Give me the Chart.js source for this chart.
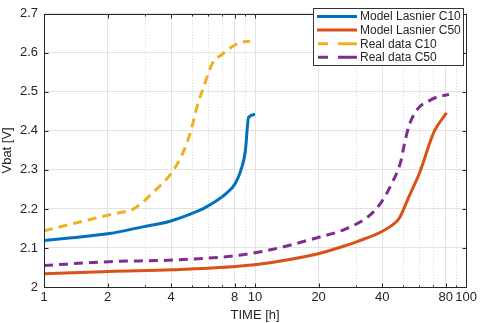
<!DOCTYPE html>
<html>
<head>
<meta charset="utf-8">
<script src="https://cdn.jsdelivr.net/npm/chart.js@4/dist/chart.umd.min.js"></script>
<style>
  html, body { margin: 0; padding: 0; background: #fff; }
  #wrap { width: 480px; height: 323px; }
</style>
</head>
<body>
<div id="wrap"><canvas id="chart" width="480" height="323"></canvas></div>
<script>
"use strict";

// values
const timeModelC10 = [1, 1.28, 2.04, 2.93, 3.92, 5.0, 5.83, 6.26, 7.24, 8.07, 8.66, 8.99, 9.32, 10.0];
const vbatModelC10 = [2.119, 2.125, 2.137, 2.154, 2.168, 2.188, 2.204, 2.214, 2.238, 2.266, 2.307, 2.348, 2.435, 2.442];

const timeModelC50 = [1, 2.04, 4.06, 8.3, 12.0, 19.9, 27.5, 30.7, 39.5, 45.0, 48.2, 53.7, 59.9, 70.5, 80.7];
const vbatModelC50 = [2.034, 2.040, 2.044, 2.053, 2.063, 2.085, 2.108, 2.117, 2.141, 2.160, 2.176, 2.233, 2.290, 2.398, 2.446];

const timeRealC10 = [1, 1.65, 2.12, 2.63, 2.83, 3.27, 3.99, 4.52, 4.95, 5.32, 5.72, 6.26, 6.98, 8.36, 9.49];
const vbatRealC10 = [2.144, 2.173, 2.187, 2.199, 2.210, 2.241, 2.290, 2.340, 2.398, 2.464, 2.514, 2.572, 2.596, 2.625, 2.630];

const timeRealC50 = [1, 2.04, 4.06, 8.3, 12.0, 19.9, 26.1, 34.8, 39.5, 44.0, 49.1, 50.9, 53.7, 58.8, 66.7, 73.1, 82.9];
const vbatRealC50 = [2.055, 2.065, 2.069, 2.081, 2.096, 2.127, 2.146, 2.183, 2.216, 2.261, 2.323, 2.365, 2.414, 2.456, 2.477, 2.487, 2.493];

const xTicks = [1, 2, 4, 8, 10, 20, 40, 80, 100];
const xMinorTicks = [3, 5, 6, 7, 9, 30, 50, 60, 70, 90];
const yTicks = [2, 2.1, 2.2, 2.3, 2.4, 2.5, 2.6, 2.7];

const seriesNames = ["Model Lasnier C10", "Model Lasnier C50", "Real data C10", "Real data C50"];

const FONT = "'Liberation Sans', Arial, sans-serif";
const TXT = "#262626";
const AXIS = "#262626";
const GRID = "#e3e3e3";

function pts(xs, ys) {
  return xs.map((x, i) => ({ x, y: ys[i] }));
}

function series(label, data, color, dash) {
  return {
    label,
    data,
    borderColor: color,
    backgroundColor: color,
    borderWidth: 3,
    borderDash: dash || [],
    pointRadius: 0,
    fill: false,
    cubicInterpolationMode: "monotone",
  };
}

// dotted minor grid, inward ticks, box and legend, all placed through the scales
const decorPlugin = {
  id: "decor",
  beforeDatasetsDraw(chart) {
    const { ctx, chartArea: a, scales } = chart;
    ctx.save();
    ctx.strokeStyle = "#d6d6d6";
    ctx.lineWidth = 1;
    ctx.setLineDash([1, 2]);
    xMinorTicks.forEach((v) => {
      const px = Math.round(scales.x.getPixelForValue(v)) + 0.5;
      ctx.beginPath();
      ctx.moveTo(px, a.top);
      ctx.lineTo(px, a.bottom);
      ctx.stroke();
    });
    ctx.restore();
  },
  afterDraw(chart) {
    const { ctx, chartArea: a, scales } = chart;
    ctx.save();
    ctx.strokeStyle = AXIS;
    ctx.lineWidth = 1;
    ctx.setLineDash([]);
    const L = Math.round(a.left) + 0.5, R = Math.round(a.right) + 0.5;
    const T = Math.round(a.top) + 0.5, B = Math.round(a.bottom) + 0.5;
    ctx.strokeRect(L, T, R - L, B - T);
    // inward ticks
    ctx.beginPath();
    xTicks.concat(xMinorTicks).forEach((v) => {
      const px = Math.round(scales.x.getPixelForValue(v)) + 0.5;
      const len = xTicks.includes(v) ? 4 : 2;
      ctx.moveTo(px, B); ctx.lineTo(px, B - len);
      ctx.moveTo(px, T); ctx.lineTo(px, T + len);
    });
    yTicks.forEach((v) => {
      const py = Math.round(scales.y.getPixelForValue(v)) + 0.5;
      ctx.moveTo(L, py); ctx.lineTo(L + 4, py);
      ctx.moveTo(R, py); ctx.lineTo(R - 4, py);
    });
    ctx.stroke();

    // legend box
    const bx = 313.5, by = 8.5, bw = 150, bh = 57;
    ctx.fillStyle = "#fff";
    ctx.fillRect(bx, by, bw, bh);
    ctx.strokeStyle = "#333";
    ctx.strokeRect(bx, by, bw, bh);
    ctx.font = "12px " + FONT;
    ctx.textBaseline = "middle";
    chart.data.datasets.forEach((ds, i) => {
      const y = 16.5 + i * 13.6;
      ctx.strokeStyle = ds.borderColor;
      ctx.lineWidth = 3;
      ctx.setLineDash([]);
      ctx.beginPath();
      if (ds.borderDash.length) {
        ctx.moveTo(318, y); ctx.lineTo(328, y);
        ctx.moveTo(338, y); ctx.lineTo(357, y);
      } else {
        ctx.moveTo(317, y); ctx.lineTo(357, y);
      }
      ctx.stroke();
      ctx.fillStyle = TXT;
      ctx.fillText(ds.label, 360, y + 0.5);
    });
    ctx.restore();
  },
};

new Chart(document.getElementById("chart"), {
  type: "line",
  data: {
    datasets: [
      series(seriesNames[0], pts(timeModelC10, vbatModelC10), "#0072BD"),
      series(seriesNames[1], pts(timeModelC50, vbatModelC50), "#D95319"),
      series(seriesNames[2], pts(timeRealC10, vbatRealC10), "#EDB120", [9, 6]),
      series(seriesNames[3], pts(timeRealC50, vbatRealC50), "#7E2F8E", [9, 6]),
    ],
  },
  options: {
    responsive: false,
    animation: false,
    layout: { padding: { left: 0, right: 11, top: 5, bottom: 0 } },
    plugins: { legend: { display: false }, tooltip: { enabled: false } },
    scales: {
      x: {
        type: "logarithmic",
        min: 1,
        max: 100,
        afterBuildTicks: (s) => { s.ticks = xTicks.map((v) => ({ value: v })); },
        afterFit: (s) => { s.height = 36; },
        ticks: {
          autoSkip: false,
          maxRotation: 0,
          padding: 3,
          color: TXT,
          font: { family: FONT, size: 13 },
          callback: (v) => String(v),
        },
        grid: { color: GRID, drawTicks: false },
        border: { display: false },
        title: {
          display: true,
          text: "TIME [h]",
          color: TXT,
          font: { family: FONT, size: 13 },
          padding: { top: 1, bottom: 0 },
        },
      },
      y: {
        min: 2,
        max: 2.7,
        afterBuildTicks: (s) => { s.ticks = yTicks.map((v) => ({ value: v })); },
        afterFit: (s) => { s.width = 44; },
        ticks: {
          padding: 6,
          color: TXT,
          font: { family: FONT, size: 13 },
          callback: (v) => String(Math.round(v * 10) / 10),
        },
        grid: { color: GRID, drawTicks: false },
        border: { display: false },
        title: {
          display: true,
          text: "Vbat [V]",
          color: TXT,
          font: { family: FONT, size: 13 },
          padding: { top: 0, bottom: 2 },
        },
      },
    },
  },
  plugins: [decorPlugin],
});
</script>
</body>
</html>
